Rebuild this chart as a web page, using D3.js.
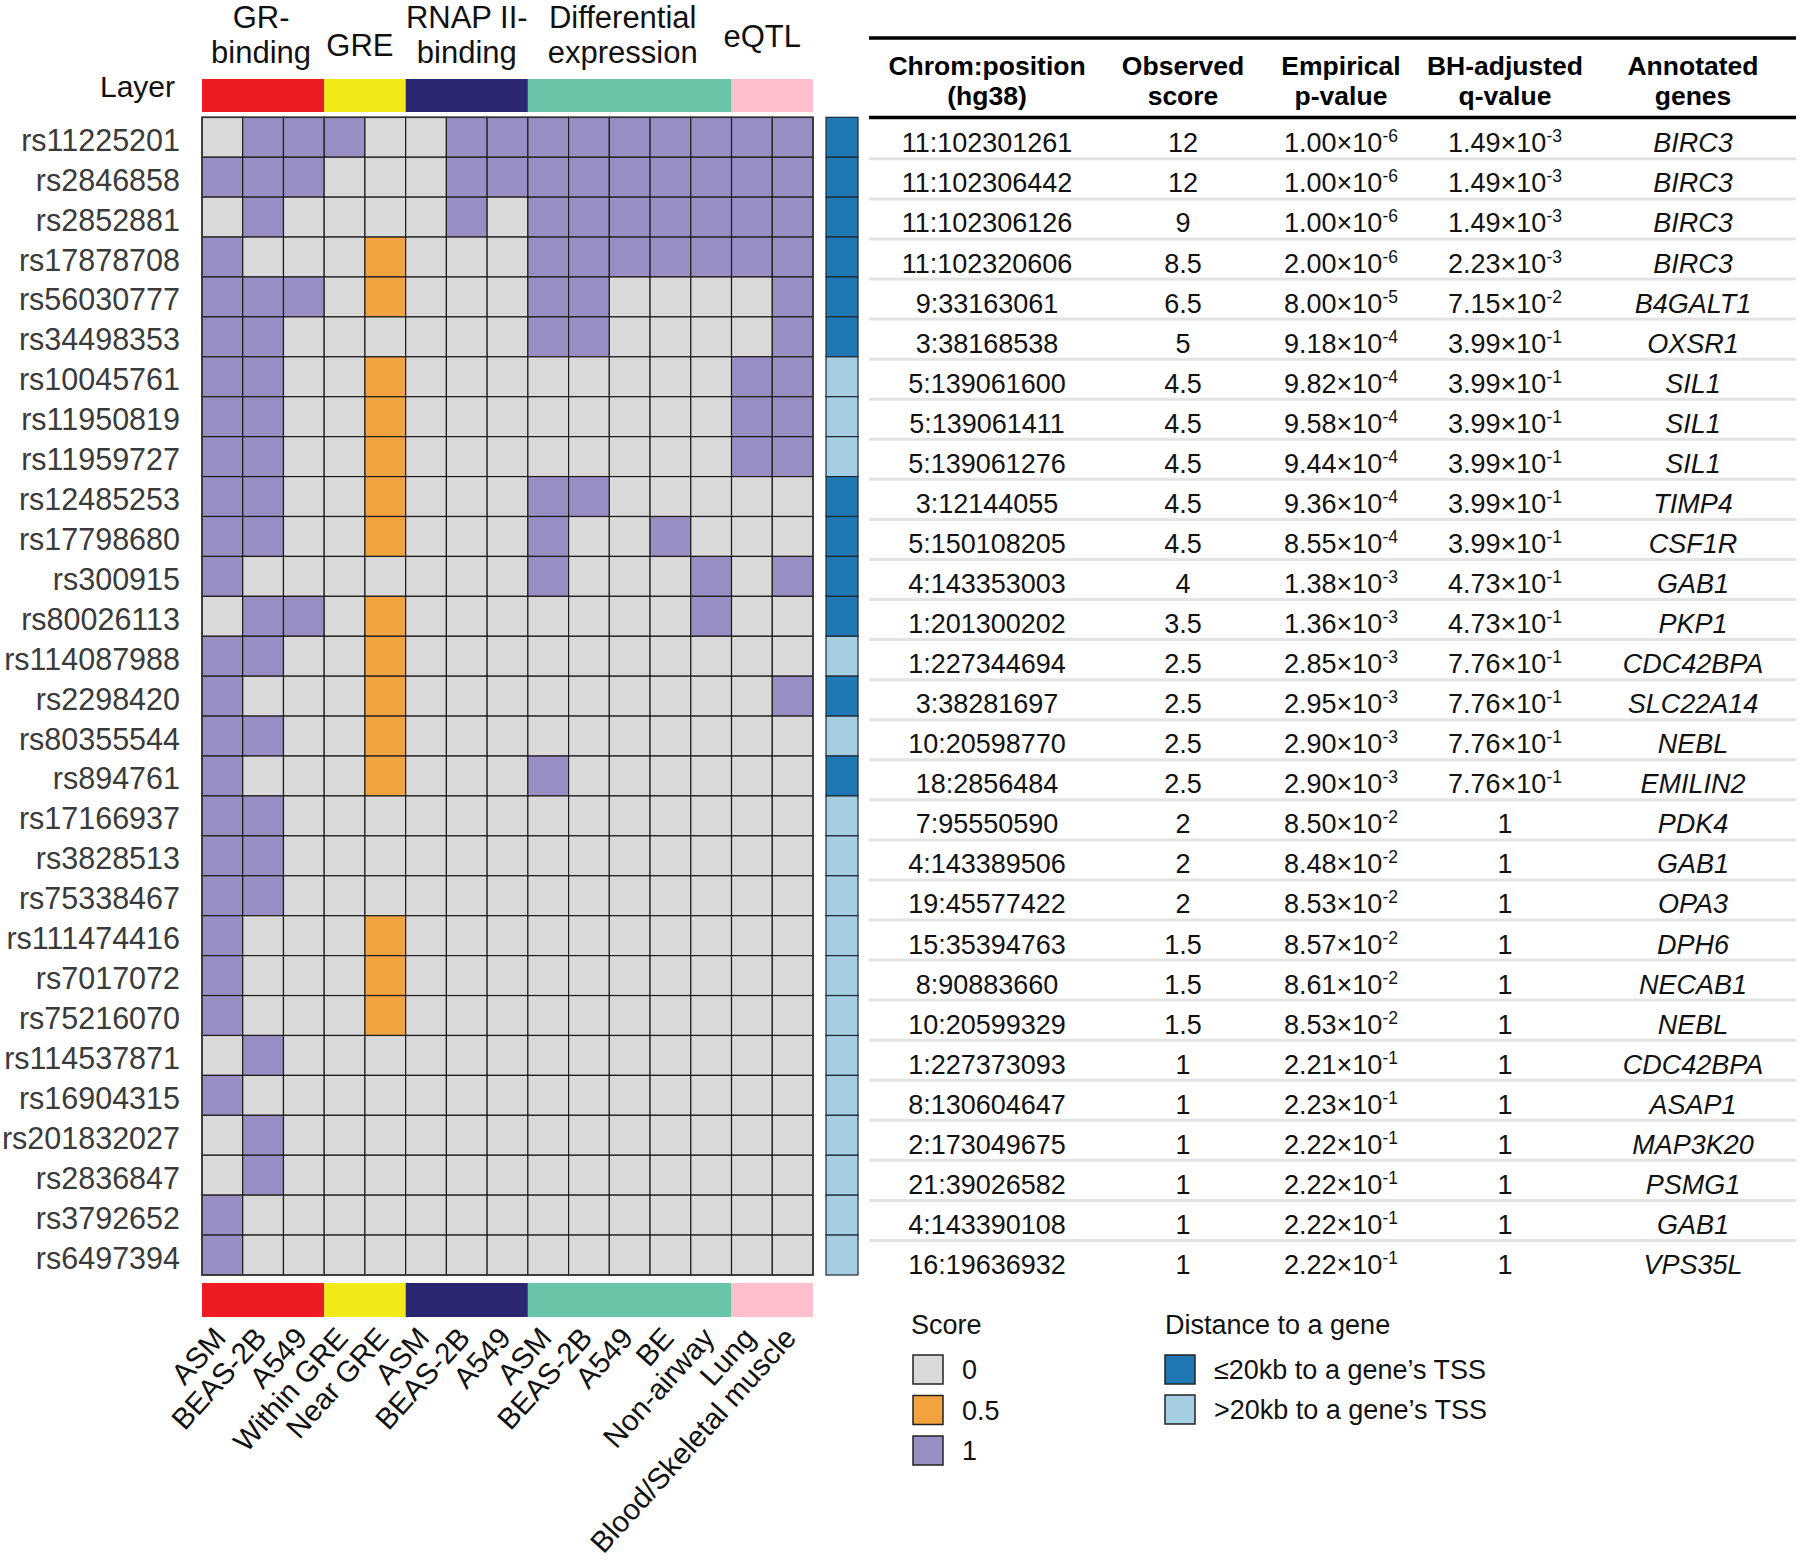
<!DOCTYPE html>
<html><head><meta charset="utf-8">
<script src="https://cdn.jsdelivr.net/npm/d3@7"></script>
<style>
body{margin:0;background:#fff}
svg{display:block}
text{font-family:"Liberation Sans",Arial,Helvetica,sans-serif}
</style>
</head><body><svg id="c" width="1800" height="1565"></svg>
<script>
// ---------------- DATA ----------------
const snps = ["rs11225201","rs2846858","rs2852881","rs17878708","rs56030777","rs34498353","rs10045761","rs11950819","rs11959727","rs12485253","rs17798680","rs300915","rs80026113","rs114087988","rs2298420","rs80355544","rs894761","rs17166937","rs3828513","rs75338467","rs111474416","rs7017072","rs75216070","rs114537871","rs16904315","rs201832027","rs2836847","rs3792652","rs6497394"];
const features = ["ASM","BEAS-2B","A549","Within GRE","Near GRE","ASM","BEAS-2B","A549","ASM","BEAS-2B","A549","BE","Non-airway","Lung","Blood/Skeletal muscle"];
const featureLayer = ["GR","GR","GR","GRE","GRE","RNAP","RNAP","RNAP","DE","DE","DE","DE","DE","eQTL","eQTL"];
const layers = ["GR","GRE","RNAP","DE","eQTL"];
const layerLabels = [["GR-","binding"],["GRE"],["RNAP II-","binding"],["Differential","expression"],["eQTL"]];
const layerColors = ["#ed1c24","#f2ea18","#2a2672","#69c4a8","#ffc0cb"];
const scores = [
 [0,1,1,1,0,0,1,1,1,1,1,1,1,1,1],
 [1,1,1,0,0,0,1,1,1,1,1,1,1,1,1],
 [0,1,0,0,0,0,1,0,1,1,1,1,1,1,1],
 [1,0,0,0,0.5,0,0,0,1,1,1,1,1,1,1],
 [1,1,1,0,0.5,0,0,0,1,1,0,0,0,0,1],
 [1,1,0,0,0,0,0,0,1,1,0,0,0,0,1],
 [1,1,0,0,0.5,0,0,0,0,0,0,0,0,1,1],
 [1,1,0,0,0.5,0,0,0,0,0,0,0,0,1,1],
 [1,1,0,0,0.5,0,0,0,0,0,0,0,0,1,1],
 [1,1,0,0,0.5,0,0,0,1,1,0,0,0,0,0],
 [1,1,0,0,0.5,0,0,0,1,0,0,1,0,0,0],
 [1,0,0,0,0,0,0,0,1,0,0,0,1,0,1],
 [0,1,1,0,0.5,0,0,0,0,0,0,0,1,0,0],
 [1,1,0,0,0.5,0,0,0,0,0,0,0,0,0,0],
 [1,0,0,0,0.5,0,0,0,0,0,0,0,0,0,1],
 [1,1,0,0,0.5,0,0,0,0,0,0,0,0,0,0],
 [1,0,0,0,0.5,0,0,0,1,0,0,0,0,0,0],
 [1,1,0,0,0,0,0,0,0,0,0,0,0,0,0],
 [1,1,0,0,0,0,0,0,0,0,0,0,0,0,0],
 [1,1,0,0,0,0,0,0,0,0,0,0,0,0,0],
 [1,0,0,0,0.5,0,0,0,0,0,0,0,0,0,0],
 [1,0,0,0,0.5,0,0,0,0,0,0,0,0,0,0],
 [1,0,0,0,0.5,0,0,0,0,0,0,0,0,0,0],
 [0,1,0,0,0,0,0,0,0,0,0,0,0,0,0],
 [1,0,0,0,0,0,0,0,0,0,0,0,0,0,0],
 [0,1,0,0,0,0,0,0,0,0,0,0,0,0,0],
 [0,1,0,0,0,0,0,0,0,0,0,0,0,0,0],
 [1,0,0,0,0,0,0,0,0,0,0,0,0,0,0],
 [1,0,0,0,0,0,0,0,0,0,0,0,0,0,0]
];
// 1 = within 20kb of a gene's TSS, 0 = farther
const nearTSS = [1,1,1,1,1,1,0,0,0,1,1,1,1,0,1,0,1,0,0,0,0,0,0,0,0,0,0,0,0];
const chromPos = ["11:102301261","11:102306442","11:102306126","11:102320606","9:33163061","3:38168538","5:139061600","5:139061411","5:139061276","3:12144055","5:150108205","4:143353003","1:201300202","1:227344694","3:38281697","10:20598770","18:2856484","7:95550590","4:143389506","19:45577422","15:35394763","8:90883660","10:20599329","1:227373093","8:130604647","2:173049675","21:39026582","4:143390108","16:19636932"];
const observedScore = [12,12,9,8.5,6.5,5,4.5,4.5,4.5,4.5,4.5,4,3.5,2.5,2.5,2.5,2.5,2,2,2,1.5,1.5,1.5,1,1,1,1,1,1];
const pValues = [1.00e-6,1.00e-6,1.00e-6,2.00e-6,8.00e-5,9.18e-4,9.82e-4,9.58e-4,9.44e-4,9.36e-4,8.55e-4,1.38e-3,1.36e-3,2.85e-3,2.95e-3,2.90e-3,2.90e-3,8.50e-2,8.48e-2,8.53e-2,8.57e-2,8.61e-2,8.53e-2,2.21e-1,2.23e-1,2.22e-1,2.22e-1,2.22e-1,2.22e-1];
const qValues = [1.49e-3,1.49e-3,1.49e-3,2.23e-3,7.15e-2,3.99e-1,3.99e-1,3.99e-1,3.99e-1,3.99e-1,3.99e-1,4.73e-1,4.73e-1,7.76e-1,7.76e-1,7.76e-1,7.76e-1,1,1,1,1,1,1,1,1,1,1,1,1];
const genes = ["BIRC3","BIRC3","BIRC3","BIRC3","B4GALT1","OXSR1","SIL1","SIL1","SIL1","TIMP4","CSF1R","GAB1","PKP1","CDC42BPA","SLC22A14","NEBL","EMILIN2","PDK4","GAB1","OPA3","DPH6","NECAB1","NEBL","CDC42BPA","ASAP1","MAP3K20","PSMG1","GAB1","VPS35L"];
const tableHeaders = [["Chrom:position","(hg38)"],["Observed","score"],["Empirical","p-value"],["BH-adjusted","q-value"],["Annotated","genes"]];
const scoreLevels = [0,0.5,1];
const scoreColors = ["#d9d9d9","#f1a340","#998ec3"];
const distLevels = [1,0];
const distLabels = ["≤20kb to a gene’s TSS",">20kb to a gene’s TSS"];
const distColors = ["#1f78b4","#a6cee3"];

// ---------------- LAYOUT ----------------
const svg = d3.select("#c");
const HM = {x0:202, x1:813, y0:117.3, y1:1275};
const x = d3.scaleBand().domain(d3.range(features.length)).range([HM.x0,HM.x1]);
const y = d3.scaleBand().domain(snps).range([HM.y0,HM.y1]);
const yT = d3.scaleBand().domain(snps).range([HM.y0,HM.y0+29*40.06]);
const fill = d3.scaleOrdinal().domain(scoreLevels).range(scoreColors);
const distFill = d3.scaleOrdinal().domain(distLevels).range(distColors);
const layerFill = d3.scaleOrdinal().domain(layers).range(layerColors);
const bw = x.bandwidth(), bh = y.bandwidth();

const layerExt = layers.map(L => {
  const idx = features.map((f,i)=>i).filter(i=>featureLayer[i]===L);
  return {L, x0:x(d3.min(idx)), x1:x(d3.max(idx))+bw};
});

[[79,112],[1283,1317]].forEach(([t,b])=>{
  svg.append("g").selectAll("rect").data(layerExt).join("rect")
    .attr("x",d=>d.x0).attr("width",d=>d.x1-d.x0)
    .attr("y",t).attr("height",b-t).attr("fill",d=>layerFill(d.L));
});

svg.append("text").attr("x",175).attr("y",97).attr("text-anchor","end")
  .attr("font-size",30).attr("fill","#111").text("Layer");

const labelDx = [-2,-5,0,-7,-10];
const labelBase = [[28,63],[56],[28,63],[28,63],[47]];
layerExt.forEach((d,i)=>{
  layerLabels[i].forEach((t,j)=>{
    svg.append("text").attr("x",(d.x0+d.x1)/2+labelDx[i]).attr("y",labelBase[i][j])
      .attr("text-anchor","middle").attr("font-size",31).attr("fill","#111").text(t);
  });
});

const cells = [];
snps.forEach((s,r)=>features.forEach((f,c)=>cells.push({s,c,v:scores[r][c]})));
svg.append("g").selectAll("rect").data(cells).join("rect")
  .attr("x",d=>x(d.c)).attr("y",d=>y(d.s)).attr("width",bw).attr("height",bh)
  .attr("fill",d=>fill(d.v)).attr("stroke","#1e1e1e").attr("stroke-width",1.2);
svg.append("rect").attr("x",HM.x0).attr("y",HM.y0).attr("width",HM.x1-HM.x0).attr("height",HM.y1-HM.y0)
  .attr("fill","none").attr("stroke","#333").attr("stroke-width",1.6);

svg.append("g").selectAll("text").data(snps).join("text")
  .attr("x",180).attr("y",d=>y(d)+bh/2+13.5).attr("text-anchor","end")
  .attr("font-size",30.5).attr("fill","#3a3a3a").text(d=>d);

svg.append("g").selectAll("text").data(features).join("text")
  .attr("transform",(d,i)=>`translate(${x(i)+bw/2+5},1339) rotate(-48)`)
  .attr("text-anchor","end").attr("font-size",29.5).attr("fill","#111").text(d=>d);

svg.append("g").selectAll("rect").data(snps).join("rect")
  .attr("x",826).attr("width",32).attr("y",d=>y(d)).attr("height",bh)
  .attr("fill",(d,i)=>distFill(nearTSS[i])).attr("stroke","#1e2a33").attr("stroke-width",1.2);

// ---------------- TABLE ----------------
const T = {x0:869, x1:1796};
const colX = d3.scaleOrdinal().domain(d3.range(5)).range([987,1183,1341,1505,1693]);
svg.append("line").attr("x1",T.x0).attr("x2",T.x1).attr("y1",38).attr("y2",38).attr("stroke","#000").attr("stroke-width",3.5);
svg.append("line").attr("x1",T.x0).attr("x2",T.x1).attr("y1",117.5).attr("y2",117.5).attr("stroke","#000").attr("stroke-width",3.5);
tableHeaders.forEach((h,i)=>{
  h.forEach((t,j)=>svg.append("text").attr("x",colX(i)).attr("y",j?105:75)
    .attr("text-anchor","middle").attr("font-size",26.5).attr("font-weight","bold").attr("fill","#000").text(t));
});
svg.append("g").selectAll("line").data(snps.slice(1)).join("line")
  .attr("x1",T.x0).attr("x2",T.x1).attr("y1",d=>yT(d)+1.5).attr("y2",d=>yT(d)+1.5)
  .attr("stroke","#e3e3e3").attr("stroke-width",3);

function sci(g, v, cx, cy){
  const t = g.append("text").attr("x",cx).attr("y",cy).attr("text-anchor","middle")
    .attr("font-size",27).attr("fill","#111");
  if (v===1){ t.text("1"); return; }
  const [m,e] = v.toExponential(2).split("e");
  t.append("tspan").text(m+"×10");
  t.append("tspan").attr("font-size",17.5).attr("dy",-10).text(String(+e));
}
const rows = svg.append("g");
snps.forEach((s,i)=>{
  const cy = yT(s)+yT.bandwidth()/2+15;
  rows.append("text").attr("x",colX(0)).attr("y",cy).attr("text-anchor","middle").attr("font-size",27).attr("fill","#111").text(chromPos[i]);
  rows.append("text").attr("x",colX(1)).attr("y",cy).attr("text-anchor","middle").attr("font-size",27).attr("fill","#111").text(observedScore[i]);
  sci(rows,pValues[i],colX(2),cy);
  sci(rows,qValues[i],colX(3),cy);
  rows.append("text").attr("x",colX(4)).attr("y",cy).attr("text-anchor","middle").attr("font-size",27).attr("font-style","italic").attr("fill","#111").text(genes[i]);
});

// ---------------- LEGENDS ----------------
const lg = svg.append("g");
lg.append("text").attr("x",911).attr("y",1334).attr("font-size",27).attr("fill","#111").text("Score");
const sy = d3.scalePoint().domain(scoreLevels).range([1355,1436]);
lg.selectAll("rect.s").data(scoreLevels).join("rect").attr("class","s")
  .attr("x",913).attr("y",d=>sy(d)).attr("width",30).attr("height",29)
  .attr("fill",d=>fill(d)).attr("stroke","#222").attr("stroke-width",1.5);
lg.selectAll("text.s").data(scoreLevels).join("text").attr("class","s")
  .attr("x",962).attr("y",d=>sy(d)+24).attr("font-size",27).attr("fill","#111").text(d=>d);

lg.append("text").attr("x",1165).attr("y",1334).attr("font-size",27).attr("fill","#111").text("Distance to a gene");
const dy = d3.scalePoint().domain(distLevels).range([1355,1395]);
lg.selectAll("rect.d").data(distLevels).join("rect").attr("class","d")
  .attr("x",1165).attr("y",d=>dy(d)).attr("width",30).attr("height",29)
  .attr("fill",d=>distFill(d)).attr("stroke","#222").attr("stroke-width",1.5);
lg.selectAll("text.d").data(distLevels).join("text").attr("class","d")
  .attr("x",1214).attr("y",d=>dy(d)+24).attr("font-size",27).attr("fill","#111").text((d,i)=>distLabels[i]);
</script>
</body></html>
